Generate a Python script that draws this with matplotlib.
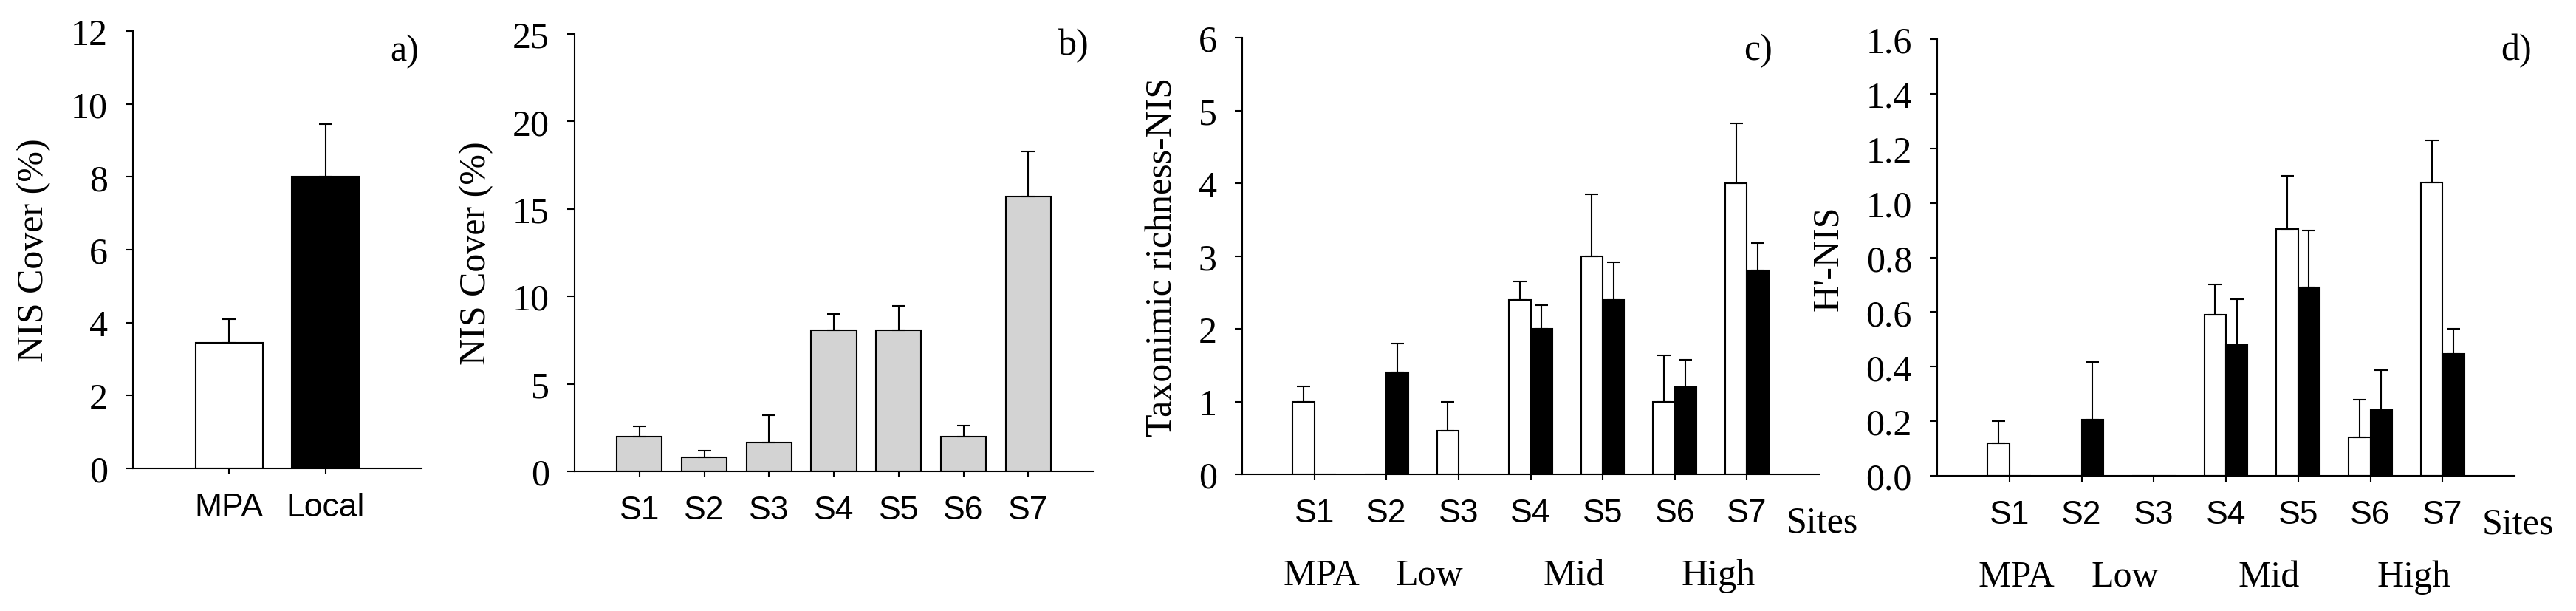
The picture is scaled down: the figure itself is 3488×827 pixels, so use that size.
import matplotlib
matplotlib.use("Agg")
import matplotlib.pyplot as plt
import matplotlib.transforms as mtransforms
import numpy as np

# ---------------- data ----------------
zones = ["MPA", "Local"]
cover_zone = [3.45, 8.0]
cover_zone_se = [0.65, 1.45]

sites = ["S1", "S2", "S3", "S4", "S5", "S6", "S7"]
cover_site = [2.0, 0.8, 1.65, 8.05, 8.05, 2.0, 15.7]
cover_site_se = [0.57, 0.4, 1.56, 0.96, 1.43, 0.61, 2.6]

rich_white = [1.0, 0.0, 0.6, 2.4, 3.0, 1.0, 4.0]
rich_white_se = [0.21, 0.0, 0.4, 0.25, 0.85, 0.63, 0.82]
rich_black = [0.0, 1.4, 0.0, 2.0, 2.4, 1.2, 2.8]
rich_black_se = [0.0, 0.4, 0.0, 0.32, 0.51, 0.37, 0.38]

h_white = [0.12, 0.0, 0.0, 0.59, 0.905, 0.14, 1.075]
h_white_se = [0.08, 0.0, 0.0, 0.11, 0.195, 0.14, 0.155]
h_black = [0.0, 0.207, 0.0, 0.48, 0.69, 0.24, 0.447]
h_black_se = [0.0, 0.21, 0.0, 0.167, 0.21, 0.147, 0.093]

group_names = ["MPA", "Low", "Mid", "High"]
group_sites = [["S1"], ["S2", "S3"], ["S4", "S5"], ["S6", "S7"]]

# ---------------- style ----------------
W, H = 3488, 828
DPI = 100
SERIF = ["Liberation Serif", "DejaVu Serif"]
SANS = ["Liberation Sans", "DejaVu Sans"]
FS = 36
FS_SANS = 32
LW = 1.5

fig = plt.figure(figsize=(W / DPI, H / DPI), dpi=DPI)


def make_ax(left, right, top, bottom):
    return fig.add_axes([left / W, 1 - bottom / H, (right - left) / W, (bottom - top) / H])


def style(ax, ylim, yticks, ylabels, xlim, xticks, xlabels, ylabel, lab_x, letter, let_x, let_y):
    ax.set_xlim(*xlim)
    ax.set_ylim(*ylim)
    for s in ("top", "right"):
        ax.spines[s].set_visible(False)
    for s in ("left", "bottom"):
        ax.spines[s].set_linewidth(LW)
    ax.set_yticks(yticks)
    ax.set_yticklabels(ylabels, family=SERIF, fontsize=FS)
    ax.set_xticks(xticks)
    ax.set_xticklabels(xlabels, family=SANS, fontsize=FS_SANS)
    ax.tick_params(axis="y", direction="out", length=7.5, width=LW, pad=17)
    ax.tick_params(axis="x", direction="out", length=6, width=LW, pad=17)
    ax.set_ylabel(ylabel, family=SERIF, fontsize=FS, va="center")
    ax.yaxis.set_label_coords(lab_x, 0.5)
    ax.text(let_x, let_y, letter, transform=ax.transAxes, ha="right", va="center",
            family=SERIF, fontsize=FS)


def errs(ax, x, vals, se):
    x = np.asarray(x, float)
    vals = np.asarray(vals, float)
    se = np.asarray(se, float)
    m = se > 0
    ax.errorbar(x[m], vals[m], yerr=[np.zeros(m.sum()), se[m]], fmt="none",
                ecolor="black", elinewidth=LW, capsize=6.8, capthick=LW, zorder=3)


# ---------------- panel a ----------------
ax = make_ax(180, 571, 43, 635)
xa = np.arange(len(zones))
ax.bar(xa, cover_zone, width=0.7, color=["white", "black"], edgecolor="black", linewidth=LW, zorder=2)
errs(ax, xa, cover_zone, cover_zone_se)
yt = np.arange(0, 13, 2)
style(ax, (0, 12), yt, [f"{v:g}" for v in yt], (-1, 2), xa, zones,
      "NIS Cover (%)", -0.343, "a)", 0.99, 0.955)

# ---------------- panel b ----------------
ax = make_ax(778, 1480, 47, 639)
xs = np.arange(len(sites))
ax.bar(xs, cover_site, width=0.7, color="#d3d3d3", edgecolor="black", linewidth=LW, zorder=2)
errs(ax, xs, cover_site, cover_site_se)
yt = np.arange(0, 26, 5)
style(ax, (0, 25), yt, [f"{v:g}" for v in yt], (-1, 7), xs, sites,
      "NIS Cover (%)", -0.19, "b)", 0.993, 0.974)


def paired(ax, white, white_se, black, black_se):
    bw = 0.3
    ax.bar(xs - bw / 2, white, width=bw, color="white", edgecolor="black", linewidth=LW, zorder=2)
    ax.bar(xs + bw / 2, black, width=bw, color="black", edgecolor="black", linewidth=LW, zorder=2)
    errs(ax, xs - bw / 2, white, white_se)
    errs(ax, xs + bw / 2, black, black_se)
    trans = mtransforms.blended_transform_factory(ax.transData, ax.transAxes)
    ax.text(6.55, -0.11, "Sites", transform=trans, ha="left", va="center",
            family=SERIF, fontsize=FS, clip_on=False)
    for name, members in zip(group_names, group_sites):
        pos = np.mean([sites.index(s) for s in members]) + 0.1
        ax.text(pos, -0.232, name, transform=trans, ha="center", va="center",
                family=SERIF, fontsize=FS, clip_on=False)


# ---------------- panel c ----------------
ax = make_ax(1682, 2463, 52, 643)
paired(ax, rich_white, rich_white_se, rich_black, rich_black_se)
yt = np.arange(0, 7, 1)
style(ax, (0, 6), yt, [f"{v:g}" for v in yt], (-1, 7), xs, sites,
      "Taxonimic richness-NIS", -0.138, "c)", 0.919, 0.971)

# ---------------- panel d ----------------
ax = make_ax(2623, 3405, 54, 645)
paired(ax, h_white, h_white_se, h_black, h_black_se)
yt = np.round(np.arange(0, 1.61, 0.2), 1)
style(ax, (0, 1.6), yt, [f"{v:.1f}" for v in yt], (-1, 7), xs, sites,
      "H'-NIS", -0.188, "d)", 1.03, 0.975)

fig.savefig("out.png", dpi=DPI)
